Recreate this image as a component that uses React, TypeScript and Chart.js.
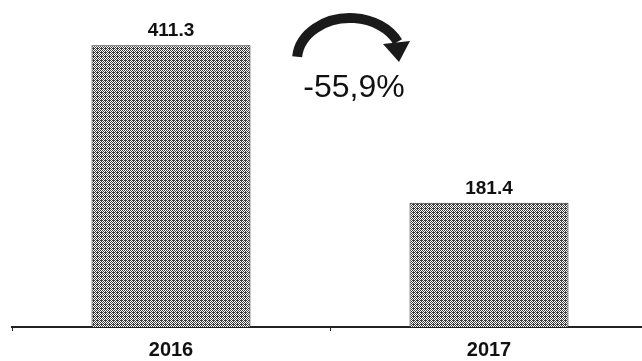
import React, { useEffect, useRef } from "react";
import { Chart, registerables } from "chart.js";

Chart.register(...registerables);

const categories: string[] = ["2016", "2017"];
const values: number[] = [411.3, 181.4];
const valueLabels: string[] = ["411.3", "181.4"];
const changeLabel = "-55,9%";

function makePattern(): CanvasPattern | string {
  const c = document.createElement("canvas");
  c.width = 8;
  c.height = 8;
  const g = c.getContext("2d");
  if (!g) return "#9a9a9a";
  const bayer = [
    [0, 32, 8, 40, 2, 34, 10, 42],
    [48, 16, 56, 24, 50, 18, 58, 26],
    [12, 44, 4, 36, 14, 46, 6, 38],
    [60, 28, 52, 20, 62, 30, 54, 22],
    [3, 35, 11, 43, 1, 33, 9, 41],
    [51, 19, 59, 27, 49, 17, 57, 25],
    [15, 47, 7, 39, 13, 45, 5, 37],
    [63, 31, 55, 23, 61, 29, 53, 21],
  ];
  g.fillStyle = "#ffffff";
  g.fillRect(0, 0, 8, 8);
  g.fillStyle = "#3a3a3a";
  for (let y = 0; y < 8; y++) {
    for (let x = 0; x < 8; x++) {
      if (bayer[y][x] < 36) g.fillRect(x, y, 1, 1);
    }
  }
  const ctx2 = document.createElement("canvas").getContext("2d");
  const p = ctx2 ? ctx2.createPattern(c, "repeat") : null;
  return p || "#9a9a9a";
}

const overlayPlugin = {
  id: "overlay",
  afterDatasetsDraw(chart: any) {
    const ctx = chart.ctx as CanvasRenderingContext2D;
    const meta = chart.getDatasetMeta(0);
    ctx.save();
    ctx.fillStyle = "#111111";
    ctx.font = "bold 19px 'Liberation Sans', Arial, sans-serif";
    ctx.textAlign = "center";
    ctx.textBaseline = "bottom";
    meta.data.forEach((bar: any, i: number) => {
      ctx.fillText(valueLabels[i], bar.x, bar.y - 5);
    });

    // curved arrow
    const cx = 350;
    const cy = 60;
    ctx.strokeStyle = "#1a1a1a";
    ctx.lineWidth = 10;
    ctx.beginPath();
    ctx.ellipse(cx, cy, 53, 42, 0, Math.PI + 0.08, 2 * Math.PI - 0.45);
    ctx.stroke();
    ctx.fillStyle = "#1a1a1a";
    ctx.beginPath();
    ctx.moveTo(383, 44);
    ctx.lineTo(410, 41);
    ctx.lineTo(399, 62);
    ctx.closePath();
    ctx.fill();

    ctx.fillStyle = "#111111";
    ctx.font = "32px 'Liberation Sans', Arial, sans-serif";
    ctx.textAlign = "center";
    ctx.textBaseline = "middle";
    ctx.fillText(changeLabel, 354, 88);
    ctx.restore();
  },
};

export default function App() {
  const ref = useRef<HTMLCanvasElement | null>(null);
  useEffect(() => {
    if (!ref.current) return;
    const pattern = makePattern();
    const chart = new Chart(ref.current, {
      type: "bar",
      data: {
        labels: categories,
        datasets: [
          {
            data: values,
            backgroundColor: pattern as any,
            borderColor: "#2a2a2a",
            borderWidth: 1,
            barPercentage: 0.5,
            categoryPercentage: 1,
          },
        ],
      },
      options: {
        animation: false,
        responsive: false,
        maintainAspectRatio: false,
        layout: { padding: { left: 12, right: 12, top: 12, bottom: 0 } },
        plugins: { legend: { display: false }, tooltip: { enabled: false } },
        scales: {
          x: {
            offset: true,
            afterFit: (scale: any) => {
              scale.height = 34;
            },
            grid: {
              display: true,
              drawOnChartArea: false,
              drawTicks: true,
              tickLength: 4,
              offset: true,
              color: "#222222",
            },
            border: { display: true, color: "#222222", width: 2 },
            ticks: {
              color: "#111111",
              padding: 7,
              font: { family: "'Liberation Sans', Arial, sans-serif", size: 20, weight: "bold" },
            },
          },
          y: { display: false, min: 0, max: 460 },
        },
      },
      plugins: [overlayPlugin],
    });
    return () => chart.destroy();
  }, []);
  return (
    <div style={{ position: "fixed", left: 0, top: 0, width: 642, height: 361, overflow: "hidden", background: "#fff" }}>
      <canvas ref={ref} width={660} height={361} style={{ width: 660, height: 361, display: "block" }} />
    </div>
  );
}
